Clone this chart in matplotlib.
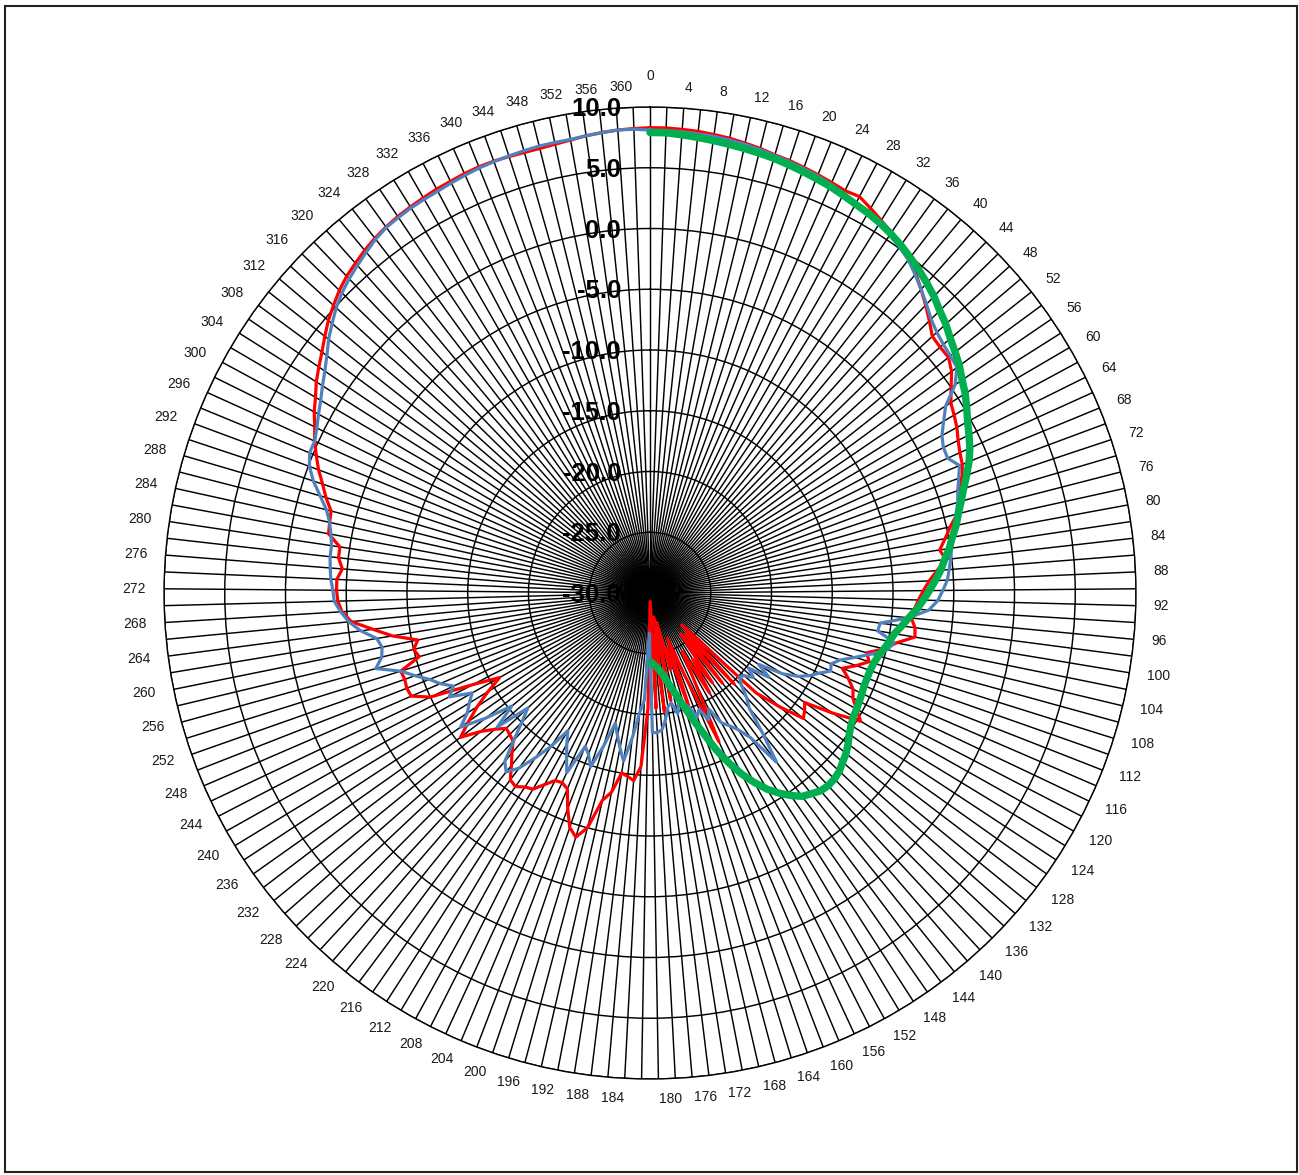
import numpy as np
import matplotlib
matplotlib.use('Agg')
import matplotlib.pyplot as plt
from matplotlib.patches import Rectangle

# categories every 2 degrees, 0..360 (Excel radar with 181 spokes)
categories = list(range(0, 361, 2))

red = [8.3, 8.3, 8.25, 8.2, 8.1, 8.0, 7.85, 7.7, 7.5, 7.4,
       7.25, 7.1, 6.95, 6.8, 6.9, 6.5, 6.1, 5.7, 5.3, 4.9,
       4.2, 3.5, 2.8, 2.1, 1.4, 1.3, 1.3, 0.8, 0.0, -0.7,
       -1.0, -1.3, -1.7, -2.0, -2.2, -2.6, -3.3, -3.4, -3.9, -4.7,
       -5.3, -5.9, -5.5, -6.3, -7.0, -7.5, -7.9, -8.2, -8.4, -8.0,
       -7.9, -9.3, -10.2, -11.5, -11.1, -12.0, -13.0, -12.2, -11.5, -11.2,
       -10.5, -9.7, -12.0, -14.4, -14.0, -13.7, -15.8, -18.0, -26.3, -19.8,
       -25.5, -20.5, -25.8, -21.0, -23.5, -20.4, -24.5, -22.0, -16.5, -22.5,
       -26.0, -20.0, -25.2, -23.5, -27.5, -21.0, -28.0, -20.1, -26.5, -20.5,
       -29.3, -20.5, -15.7, -14.5, -14.8, -15.0, -13.3, -12.5, -10.0, -9.0,
       -9.6, -11.0, -12.5, -12.8, -12.7, -12.0, -11.2, -11.0, -10.6, -10.8,
       -11.8, -12.6, -13.4, -13.6, -13.75, -13.0, -12.0, -10.4, -11.7, -13.0,
       -14.4, -15.8, -13.6, -10.0, -8.6, -8.5, -8.6, -8.5, -10.3, -10.0,
       -10.5, -8.5, -7.0, -5.3, -4.6, -4.3, -4.2, -4.2, -4.6, -4.2,
       -4.2, -3.1, -3.0, -2.9, -2.2, -1.6, -0.9, -0.3, 0.3, 0.8,
       1.4, 1.9, 2.5, 3.0, 3.5, 4.1, 4.7, 5.2, 5.7, 6.1,
       6.4, 6.7, 6.95, 7.15, 7.3, 7.4, 7.5, 7.6, 7.65, 7.75,
       7.8, 7.8, 7.75, 7.7, 7.7, 7.75, 7.85, 8.0, 8.1, 8.2,
       8.25]

blue = [8.1, 8.1, 8.05, 8.0, 7.95, 7.85, 7.75, 7.6, 7.45, 7.3,
        7.15, 7.0, 6.8, 6.55, 6.3, 6.1, 5.85, 5.5, 5.1, 4.7,
        4.1, 3.5, 2.9, 2.3, 1.9, 1.65, 1.5, 1.35, 0.4, -1.2,
        -2.0, -2.7, -3.05, -3.1, -2.45, -2.9, -3.3, -3.6, -4.0, -4.35,
        -4.6, -4.9, -5.1, -5.3, -5.5, -5.9, -6.3, -7.0, -8.6, -10.9,
        -11.0, -9.5, -9.9, -11.1, -12.3, -13.4, -14.0, -13.8, -14.6, -15.2,
        -16.0, -17.2, -19.3, -18.0, -19.8, -19.0, -19.7, -19.9, -19.3, -18.3,
        -17.5, -15.2, -12.6, -15.5, -16.6, -17.3, -17.8, -19.3, -18.5, -19.6,
        -19.1, -20.05, -20.5, -20.8, -19.8, -20.8, -20.5, -19.5, -18.7, -18.5,
        -18.5, -26.7, -21.2, -20.1, -18.0, -16.0, -17.0, -18.0, -18.9, -16.8,
        -14.9, -15.8, -16.3, -13.7, -14.8, -15.8, -16.8, -15.0, -13.5, -12.0,
        -11.1, -11.7, -13.5, -15.0, -16.2, -13.3, -15.3, -13.0, -10.9, -12.0,
        -12.6, -13.2, -11.4, -12.1, -11.2, -10.5, -9.5, -8.5, -6.6, -7.3,
        -7.5, -7.2, -6.0, -5.1, -4.5, -4.0, -3.9, -3.7, -3.6, -3.5,
        -3.5, -3.3, -3.0, -2.5, -1.7, -0.8, -0.1, 0.3, 0.3, 0.6,
        1.0, 1.4, 1.9, 2.4, 3.0, 3.7, 4.3, 4.9, 5.4, 5.8,
        6.15, 6.5, 6.85, 7.1, 7.2, 7.3, 7.35, 7.4, 7.5, 7.6,
        7.7, 7.75, 7.8, 7.85, 7.9, 7.9, 7.9, 8.0, 8.1, 8.2,
        8.2]

# green only has values for 0..180
green = [7.9, 7.9, 7.8, 7.7, 7.6, 7.5, 7.4, 7.3, 7.2, 7.05,
         6.9, 6.75, 6.6, 6.4, 6.2, 6.05, 5.85, 5.6, 5.3, 4.95,
         4.6, 4.2, 3.8, 3.3, 2.9, 2.4, 2.0, 1.6, 1.1, 0.7,
         0.2, -0.3, -0.7, -1.1, -1.6, -2.2, -2.8, -3.3, -3.8, -4.2,
         -4.7, -5.1, -5.6, -6.0, -6.5, -7.0, -7.5, -8.0, -8.6, -9.1,
         -9.6, -9.9, -10.2, -10.5, -10.7, -10.8, -10.8, -10.8, -10.7, -10.6,
         -10.5, -10.4, -10.2, -9.9, -9.5, -9.15, -8.9, -8.6, -8.45, -8.4,
         -8.5, -8.8, -9.1, -9.7, -10.4, -11.2, -12.2, -13.3, -14.6, -16.0,
         -17.6, -18.9, -20.1, -21.1, -21.9, -22.6, -23.2, -23.6, -23.9, -24.1,
         -24.3]

r_ticks = [-30, -25, -20, -15, -10, -5, 0, 5, 10]
r_labels = ['-30.0', '-25.0', '-20.0', '-15.0', '-10.0', '-5.0', '0.0', '5.0', '10.0']

n = len(categories)
theta = np.arange(n) * 2 * np.pi / n

fig = plt.figure(figsize=(12.99, 11.75), dpi=100)
ax = fig.add_axes([0.12625, 0.0817, 0.74827, 0.82723], projection='polar')
ax.set_theta_zero_location('N')
ax.set_theta_direction(-1)
ax.set_ylim(-30, 10)
ax.set_xticks(theta)
ax.set_xticklabels([])
ax.set_yticks(r_ticks)
ax.set_yticklabels([])
ax.tick_params(length=0)
ax.set_axisbelow(True)
ax.grid(True, color='black', lw=1.05)
ax.spines['polar'].set_color('black')
ax.spines['polar'].set_linewidth(1.0)

# radial value labels, left of the 0 spoke
for v, lab in zip(r_ticks, r_labels):
    ax.annotate(lab, xy=(0, v), xytext=(-29, -2), textcoords='offset pixels',
                ha='right', va='center', fontsize=18.5, fontweight='bold',
                family='Liberation Sans', color='black', zorder=0.3,
                annotation_clip=False)

# category labels, every other spoke
for i in range(0, n, 2):
    a = theta[i]
    s, c = np.sin(a), np.cos(a)
    if s > 1e-6:
        ha = 'left'
    elif s < -1e-6:
        ha = 'right'
    else:
        ha = 'center'
    extra = 11 if categories[i] == 0 else 0
    ax.annotate(str(categories[i]), xy=(a, 10),
                xytext=(18 * s, (20 + extra) * c), textcoords='offset pixels',
                ha=ha, va='center', fontsize=10, family='Liberation Sans',
                color='#1a1a1a', annotation_clip=False)

# series (red and blue close the loop like the radar chart does)
ax.plot(np.append(theta, theta[0]), red + [red[0]], color='#ff0000', lw=2.3, zorder=3)
ax.plot(np.append(theta, theta[0]), blue + [blue[0]], color='#4f81bd', lw=2.3, zorder=4)
ax.plot(theta[:len(green)], green, color='#00b050', lw=5.3, zorder=5,
        solid_capstyle='round', solid_joinstyle='round')

# outer frame of the chart area
fig.add_artist(Rectangle((5 / 1299, 1 - 1172 / 1175), 1292 / 1299, 1166 / 1175,
                         transform=fig.transFigure, fill=False, ec='#222222', lw=1.5))

fig.savefig('out.png', dpi=100)
